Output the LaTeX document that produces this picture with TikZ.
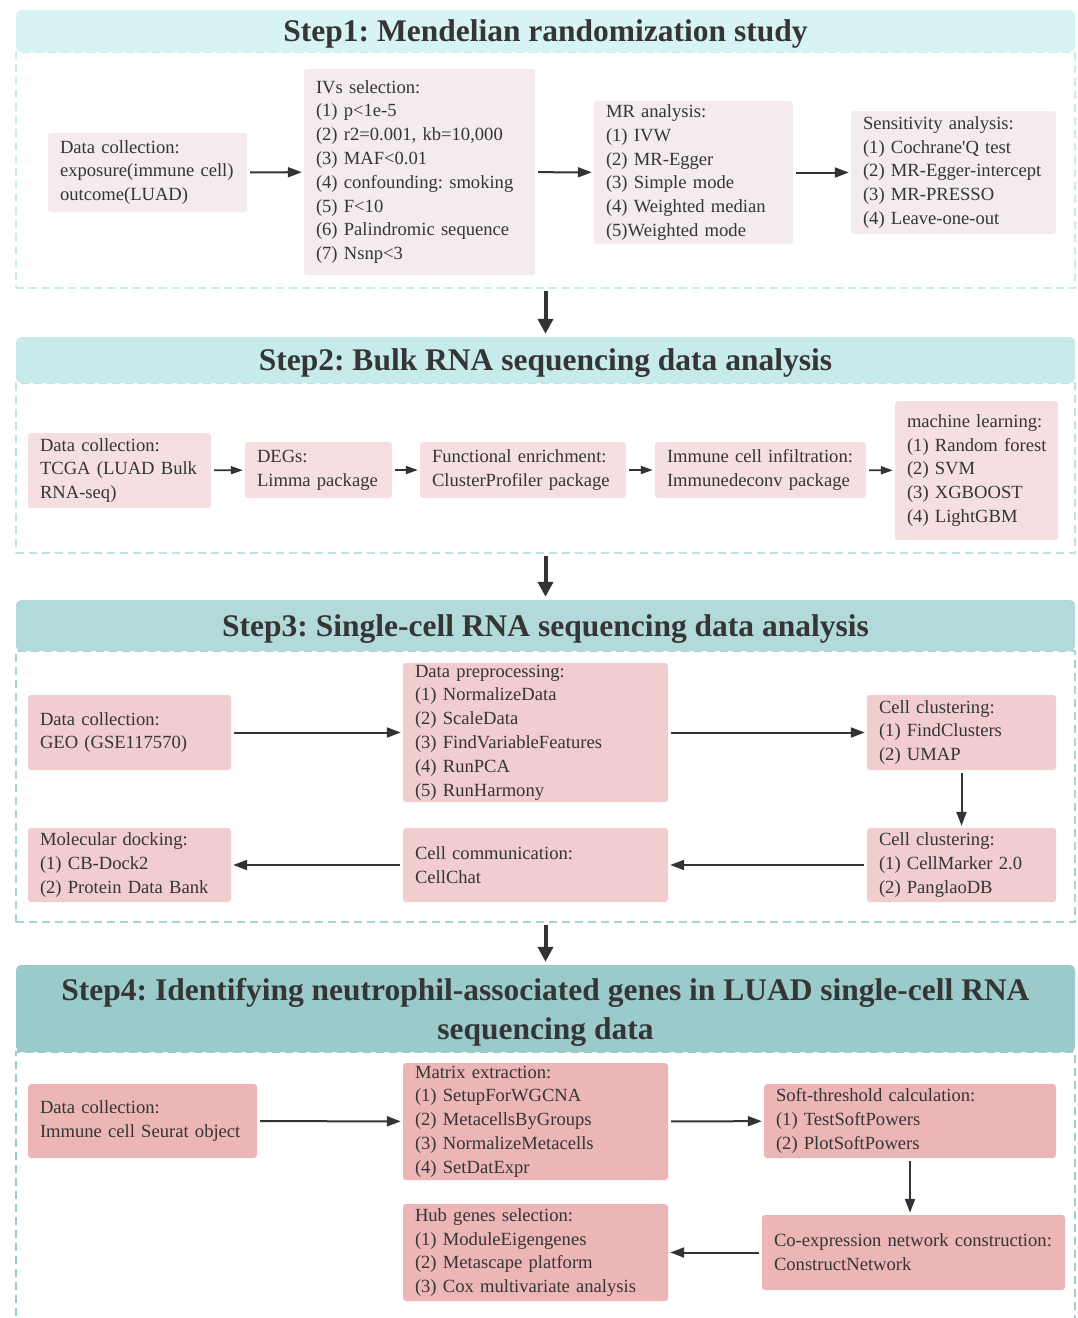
\documentclass[tikz,border=0pt]{standalone}
\usepackage{fontspec}
\setmainfont{Liberation Serif}
\usetikzlibrary{arrows.meta}
\frenchspacing
\hfuzz=30pt
\definecolor{txt}{HTML}{353535}
\definecolor{arc}{HTML}{333333}
\definecolor{hA}{HTML}{D8F3F3}
\definecolor{hB}{HTML}{C7EAEA}
\definecolor{hC}{HTML}{B3DADA}
\definecolor{hD}{HTML}{9BCACA}
\definecolor{fA}{HTML}{C6ECEC}
\definecolor{fB}{HTML}{BDE4E4}
\definecolor{fC}{HTML}{A9D4D4}
\definecolor{fD}{HTML}{9CCCCC}
\definecolor{bA}{HTML}{F3EBEC}
\definecolor{bB}{HTML}{F5DFE0}
\definecolor{bC}{HTML}{F2CDCF}
\definecolor{bD}{HTML}{ECB6B7}
\newcommand\mkbox[7]{%
  \pgfmathsetmacro\mkW{#4-#2}%
  \pgfmathsetmacro\mkH{#5-#3}%
  \pgfmathsetmacro\mkT{#4-#2-24}%
  \node[bxs,fill=#6,minimum width=\mkW pt,minimum height=\mkH pt,text width=\mkT pt] (#1) at ({(#2+#4)/2},{(#3+#5)/2}) {#7};}
\begin{document}
\begin{tikzpicture}[x=1pt,y=-1pt,
  bxs/.style={rounded corners=3pt, inner xsep=12pt, inner ysep=0pt, align=left, text=txt, font=\fontsize{18.6}{23.8}\selectfont},
  hdr/.style={rounded corners=5pt, font=\bfseries\fontsize{31.5}{39}\selectfont, text=txt, align=center, inner sep=0pt, text depth=0pt, minimum width=1059pt},
  frm/.style={dash pattern=on 8pt off 5pt, line width=1.2pt, minimum width=1059pt, inner sep=0pt},
  arr/.style={-{Triangle[length=14pt,width=10pt]}, line width=2pt, draw=arc, shorten <=3pt, shorten >=2pt},
  sarr/.style={-{Triangle[length=12pt,width=8pt]}, line width=1.8pt, draw=arc, shorten <=3pt, shorten >=2pt},
  barr/.style={-{Triangle[length=15pt,width=15pt]}, line width=4pt, draw=arc, shorten <=2pt, shorten >=3pt}]
\useasboundingbox (0,0) rectangle (1077,1318);
\fill[white] (0,0) rectangle (1077,1318);

% ---------- Step 1 ----------
\node[frm, draw=fA, minimum height=236pt] (f1) at (545.5,170) {};
\node[hdr, fill=hA, minimum height=42pt] (h1) at (545.5,31) {Step1: Mendelian randomization study};
\mkbox{dc1}{48}{133}{247}{212}{bA}{Data collection:\\exposure(immune cell)\\outcome(LUAD)}
\mkbox{ivs}{304}{69}{535}{275}{bA}{IVs selection:\\(1) p<1e-5\\(2) r2=0.001, kb=10,000\\(3) MAF<0.01\\(4) confounding: smoking\\(5) F<10\\(6) Palindromic sequence\\(7) Nsnp<3}
\mkbox{mr}{594}{101}{793}{244}{bA}{MR analysis:\\(1) IVW\\(2) MR-Egger\\(3) Simple mode\\(4) Weighted median\\(5)Weighted mode}
\mkbox{sens}{851}{111}{1056}{234}{bA}{Sensitivity analysis:\\(1) Cochrane{\addfontfeature{Ligatures=TeXOff}'}Q test\\(2) MR-Egger-intercept\\(3) MR-PRESSO\\(4) Leave-one-out}
\draw[arr] (dc1) -- (ivs);
\draw[arr] (ivs) -- (mr);
\draw[arr] (mr) -- (sens);

% ---------- Step 2 ----------
\node[frm, draw=fB, minimum height=170pt] (f2) at (545.5,468) {};
\node[hdr, fill=hB, minimum height=46pt] (h2) at (545.5,360) {Step2: Bulk RNA sequencing data analysis};
\mkbox{dc2}{28}{433}{211}{508}{bB}{Data collection:\\TCGA (LUAD Bulk\\RNA-seq)}
\mkbox{degs}{245}{442}{392}{498}{bB}{DEGs:\\Limma package}
\mkbox{fe}{420}{442}{626}{498}{bB}{Functional enrichment:\\ClusterProfiler package}
\mkbox{ici}{655}{442}{866}{498}{bB}{Immune cell infiltration:\\Immunedeconv package}
\mkbox{ml}{895}{401}{1058}{540}{bB}{machine learning:\\\mbox{(1) Random forest}\\(2) SVM\\(3) XGBOOST\\(4) LightGBM}
\draw[sarr] (dc2) -- (degs);
\draw[sarr] (degs) -- (fe);
\draw[sarr] (fe) -- (ici);
\draw[sarr] (ici) -- (ml);

% ---------- Step 3 ----------
\node[frm, draw=fC, minimum height=271pt] (f3) at (545.5,786.5) {};
\node[hdr, fill=hC, minimum height=51pt] (h3) at (545.5,625.5) {Step3: Single-cell RNA sequencing data analysis};
\mkbox{dc3}{28}{695}{231}{770}{bC}{Data collection:\\GEO (GSE117570)}
\mkbox{pp}{403}{663}{668}{802}{bC}{Data preprocessing:\\(1) NormalizeData\\(2) ScaleData\\(3) FindVariableFeatures\\(4) RunPCA\\(5) RunHarmony}
\mkbox{cc1}{867}{695}{1056}{770}{bC}{Cell clustering:\\(1) FindClusters\\(2) UMAP}
\mkbox{cc2}{867}{828}{1056}{902}{bC}{Cell clustering:\\(1) CellMarker 2.0\\(2) PanglaoDB}
\mkbox{comm}{403}{828}{668}{902}{bC}{Cell communication:\\CellChat}
\mkbox{md}{28}{828}{231}{902}{bC}{Molecular docking:\\(1) CB-Dock2\\(2) Protein Data Bank}
\draw[arr] (dc3) -- (pp);
\draw[arr] (pp) -- (cc1);
\draw[arr] (cc1) -- (cc2);
\draw[arr] (cc2) -- (comm);
\draw[arr] (comm) -- (md);

% ---------- Step 4 ----------
\node[frm, draw=fD, minimum height=278pt] (f4) at (545.5,1191) {};
\node[hdr, fill=hD, minimum height=87pt] (h4) at (545.5,1008.5) {Step4: Identifying neutrophil-associated genes in LUAD single-cell RNA\\sequencing data};
\mkbox{dc4}{28}{1084}{257}{1158}{bD}{Data collection:\\Immune cell Seurat object}
\mkbox{mx}{403}{1063}{668}{1180}{bD}{Matrix extraction:\\(1) SetupForWGCNA\\(2) MetacellsByGroups\\(3) NormalizeMetacells\\(4) SetDatExpr}
\mkbox{soft}{764}{1084}{1056}{1158}{bD}{Soft-threshold calculation:\\(1) TestSoftPowers\\(2) PlotSoftPowers}
\mkbox{coex}{762}{1215}{1065}{1290}{bD}{Co-expression network construction:\\ConstructNetwork}
\mkbox{hub}{403}{1204}{668}{1301}{bD}{Hub genes selection:\\(1) ModuleEigengenes\\(2) Metascape platform\\(3) Cox multivariate analysis}
\draw[arr] (dc4) -- (mx);
\draw[arr] (mx) -- (soft);
\draw[arr] (soft.south) -- (soft.south |- coex.north);
\draw[arr] (coex) -- (hub);

% ---------- between steps ----------
\draw[barr] (f1.south) -- (h2.north);
\draw[barr] (f2.south) -- (h3.north);
\draw[barr] (f3.south) -- (h4.north);
\end{tikzpicture}
\end{document}
